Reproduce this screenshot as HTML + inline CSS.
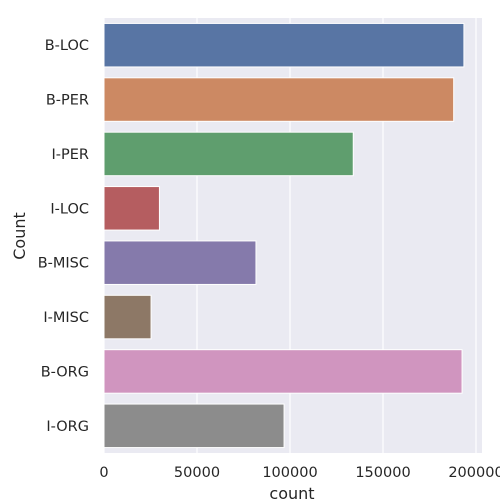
<!DOCTYPE html>
<html><head><meta charset="utf-8"><style>
body{margin:0;background:#fff;}
svg{display:block;font-family:"DejaVu Sans","Liberation Sans",sans-serif;}
</style></head><body>
<svg id="chart" width="500" height="500"></svg>
<script>
const categories=["B-LOC","B-PER","I-PER","I-LOC","B-MISC","I-MISC","B-ORG","I-ORG"];
const counts=[193500,188000,134000,29800,81700,25300,192500,96800];
const colors=["#5875a4","#cc8963","#5f9e6e","#b55d60","#857aab","#8d7866","#d095bf","#8c8c8c"];
const tickValues=[0,50000,100000,150000,200000];
const tickLabels=["0","50000","100000","150000","200000"];

const NS="http://www.w3.org/2000/svg";
const svg=document.getElementById('chart');
const L=104,R=482,T=18,B=453;
const xs=v=>L+v*(93/50000);
const band=(B-T)/categories.length;
function mk(tag,attrs,text){const e=document.createElementNS(NS,tag);for(const k in attrs)e.setAttribute(k,attrs[k]);if(text!==undefined)e.textContent=text;svg.appendChild(e);return e;}

let bg=mk('rect',{x:L,y:T,width:R-L,height:B-T,fill:'#eaeaf2'});



tickValues.forEach((v,i)=>{
  const g=mk('line',{x1:xs(v),x2:xs(v),y1:T,y2:B,stroke:'#fff','stroke-width':1.2});
  
  
  const t=mk('text',{x:xs(v),y:477,'text-anchor':'middle','font-size':14.5,fill:'#262626'},tickLabels[i]);
  
  
});

categories.forEach((c,i)=>{
  const yc=T+band*(i+0.5);
  const h=band*0.8;
  const r=mk('rect',{x:L,y:yc-h/2,width:xs(counts[i])-L,height:h,fill:colors[i],stroke:'#fff','stroke-width':1});
  
  
  const t=mk('text',{x:89,y:yc+5,'text-anchor':'end','font-size':14.5,fill:'#262626'},c);
  
  
});

let xt=mk('text',{x:(L+R)/2-1,y:499,'text-anchor':'middle','font-size':16,fill:'#262626'},'count');


let yt=mk('text',{x:25,y:236,'text-anchor':'middle','font-size':16,fill:'#262626',transform:'rotate(-90 25 236)'},'Count');


</script>
</body></html>
